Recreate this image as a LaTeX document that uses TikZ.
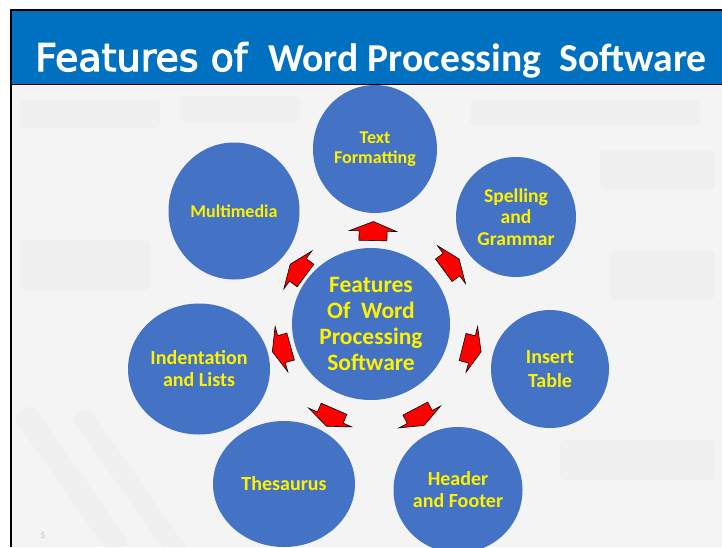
\documentclass[tikz,border=0pt]{standalone}
\usepackage{fontspec}
\setmainfont{Carlito}
\newfontfamily\headfont{DejaVu Sans}[FakeBold=3]
\usetikzlibrary{calc,shapes.geometric}

\definecolor{slideblue}{HTML}{0070C0}
\definecolor{bubblefill}{HTML}{4472C4}
\definecolor{paper}{HTML}{F4F4F4}
\definecolor{keyshade}{HTML}{E2E2E2}
\definecolor{pagegray}{HTML}{BBBBBB}

\tikzset{
  bubble/.style={ellipse, fill=bubblefill, draw=none, inner sep=0pt,
    text=yellow, align=center, font=\bfseries\fontsize{20}{22}\selectfont},
  smallbubble/.style={bubble, font=\bfseries\fontsize{18}{20}\selectfont},
  hubbubble/.style={bubble, font=\bfseries\fontsize{23.5}{26}\selectfont},
  keyband/.style={fill=keyshade, opacity=0.22, rounded corners=6pt},
  redarrow/.pic={
    \draw[fill=red, draw=black, line width=0.6pt, line join=miter]
      (9.5pt,0pt) -- (0pt,23.5pt) -- (0pt,14pt) -- (-9.5pt,14pt)
      -- (-9.5pt,-14pt) -- (0pt,-14pt) -- (0pt,-23.5pt) -- cycle;
  }
}

\begin{document}
\begin{tikzpicture}[x=1pt,y=-1pt]
\useasboundingbox (0,0) rectangle (722,547);
\begin{scope}
\clip (0,0) rectangle (722,547);

% page and faint keyboard backdrop
\fill[white] (0,0) rectangle (722,547);
\fill[paper] (11,84) rectangle (722,547);
\fill[keyband] (20,100) rectangle (160,128);
\fill[keyband] (180,96) rectangle (300,122);
\fill[keyband] (470,100) rectangle (700,126);
\fill[keyband] (600,150) rectangle (715,190);
\fill[keyband] (20,240) rectangle (150,290);
\fill[keyband] (610,250) rectangle (715,300);
\fill[keyband, rotate around={-55:(60,470)}] (-10,455) rectangle (160,478);
\fill[keyband, rotate around={-55:(120,470)}] (50,460) rectangle (230,480);
\fill[keyband] (560,440) rectangle (715,480);

% title bar
\fill[slideblue] (11,11) rectangle (722,84);
\draw[black, line width=1pt] (11,84.5) -- (722,84.5);
\draw[black, line width=2.2pt] (10,10.3) -- (722,10.3);
\draw[black, line width=2.2pt] (11.1,9.2) -- (11.1,547);

\node[anchor=base west, text=white, inner sep=0pt,
      font=\headfont\fontsize{38}{40}\selectfont] (titleA) at (35,71) {Features of};
\node[anchor=base west, text=white, inner sep=0pt,
      font=\bfseries\fontsize{39.6}{40}\selectfont] (titleB) at (268,71) {Word Processing\ \ Software};

% hub and surrounding features
\node[hubbubble, minimum width=158pt, minimum height=152pt] (cen) at (371,324)
  {Features\\Of\ \ Word\\Processing\\Software};
\node[smallbubble, minimum width=124pt, minimum height=128pt] (tf) at (375,149)
  {Text\\Formatting};
\node[bubble, minimum width=120pt, minimum height=120pt, font=\bfseries\fontsize{19.6}{21.5}\selectfont] (sg) at (516,217)
  {Spelling\\and\\Grammar};
\node[bubble, minimum width=118pt, minimum height=118pt, font=\bfseries\fontsize{20}{24}\selectfont] (it) at (550,369)
  {Insert\\Table};
\node[bubble, minimum width=129pt, minimum height=126pt] (hf) at (458,490)
  {Header\\and Footer};
\node[bubble, minimum width=142pt, minimum height=126pt] (th) at (284,484)
  {Thesaurus};
\node[bubble, minimum width=142pt, minimum height=131pt] (il) at (199,369)
  {Indentation\\and Lists};
\node[smallbubble, minimum width=131pt, minimum height=137pt] (mm) at (234,211)
  {Multimedia};

% outward arrows from the hub
\foreach \o/\d/\t in {tf/93/0, sg/100/0, it/104/0, hf/105/0, th/102/5, il/93/1, mm/91/3}
  \path let \p1=($(\o)-(cen)$), \n1={atan2(\y1,\x1)+\t} in
    ($(cen)!\d pt!\t:(\o)$) pic[rotate=\n1] {redarrow};

% slide number
\node[text=pagegray, font=\fontsize{9}{10}\selectfont, inner sep=0pt] (pgno) at (43,536) {5};
\end{scope}
\end{tikzpicture}
\end{document}
